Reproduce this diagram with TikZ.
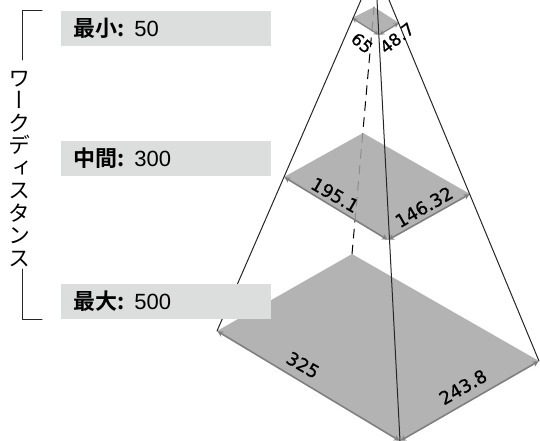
\documentclass[tikz,border=0pt]{standalone}
\usepackage{fontspec}
\setmainfont{Liberation Sans}
\newfontfamily\cjkbold{Noto Sans CJK JP Bold}
\newfontfamily\cjkvert[Vertical=Alternates]{Noto Sans CJK JP}
\newfontfamily\dimfont[FakeBold=0.8]{DejaVu Sans}
\usetikzlibrary{arrows}
\definecolor{boxgray}{HTML}{DCDEDD}

\begin{document}
\begin{tikzpicture}[x=1pt, y=-1pt, line cap = round, line join = round, >=stealth]
\tikzstyle{plane}=[fill=black!35, fill opacity=0.85, draw=none]
\tikzstyle{edge}=[<->, color=black!50, line width=1.6pt, shorten >=0.5pt, shorten <=0.5pt]
\tikzstyle{smalledge}=[edge, line width=1.2pt]
\tikzstyle{ridge}=[color=black!85, line width=1pt]
\tikzstyle{labelbox}=[fill=boxgray, anchor=west, minimum width=210pt, minimum height=35pt, inner xsep=12pt, inner ysep=0pt, text width=186pt, font=\fontsize{22}{24}\selectfont]
\tikzstyle{dim}=[font=\dimfont\fontsize{18}{20}\selectfont, inner sep=0pt]
\tikzstyle{smalldim}=[font=\dimfont\fontsize{17}{18}\selectfont, inner sep=0pt]
\useasboundingbox (0,0) rectangle (540,441);

\coordinate (maxT) at (352,254);
\coordinate (maxL) at (217,331);
\coordinate (maxR) at (539,361);
\coordinate (maxB) at (400,441);
\coordinate (midT) at (363,133);
\coordinate (midL) at (284,177);
\coordinate (midR) at (470,194);
\coordinate (midB) at (388,240);
\coordinate (minT) at (374,7);
\coordinate (minL) at (352,18);
\coordinate (minR) at (399,23);
\coordinate (minB) at (379,35);
\coordinate (apexL) at (361,0);
\coordinate (apexC) at (377,0);
\coordinate (apexR) at (389,0);

% hidden edge
\draw[line width=1pt, dash pattern=on 9pt off 7pt] (maxT) -- (minT);

\fill[plane] (maxT) -- (maxR) -- (maxB) -- (maxL) -- cycle;
\fill[plane] (midT) -- (midR) -- (midB) -- (midL) -- cycle;
\fill[plane] (minT) -- (minR) -- (minB) -- (minL) -- cycle;

\draw[edge] (maxL) -- (maxB);
\draw[edge] (maxB) -- (maxR);
\draw[edge] (midL) -- (midB);
\draw[edge] (midB) -- (midR);
\draw[smalledge] (minL) -- (minB);
\draw[smalledge] (minB) -- (minR);

\draw[ridge] (maxL) -- (apexL);
\draw[ridge] (maxR) -- (apexR);
\draw[ridge] (maxB) -- (apexC);

\node[dim, rotate=-30] (maxW) at (303,365) {325};
\node[dim, rotate=30] (maxD) at (463,387) {243.8};
\node[dim, rotate=-30] (midW) at (335,195) {195.1};
\node[dim, rotate=30] (midD) at (424,207) {146.32};
\node[smalldim, rotate=-40] (minW) at (362,43) {65};
\node[smalldim, rotate=38] (minD) at (397,38) {48.7};

\node[labelbox] (minbox) at (61,28.5) {{\cjkbold 最小:}\hspace{10pt}50};
\node[labelbox] (midbox) at (61,158.5) {{\cjkbold 中間:}\hspace{10pt}300};
\node[labelbox] (maxbox) at (61,301.5) {{\cjkbold 最大:}\hspace{10pt}500};

\node[inner sep=0pt, align=center, font=\cjkvert\fontsize{22}{22.5}\selectfont] (dist) at (19.5,169) {ワ\\ー\\ク\\デ\\ィ\\ス\\タ\\ン\\ス};

\coordinate (topA) at (42,11);
\coordinate (topB) at (22,11);
\coordinate (topC) at (22,60);
\coordinate (botA) at (42,319);
\coordinate (botB) at (22,319);
\coordinate (botC) at (22,269);
\draw[ridge] (topA) -- (topB) -- (topC);
\draw[ridge] (botA) -- (botB) -- (botC);
\end{tikzpicture}
\end{document}
